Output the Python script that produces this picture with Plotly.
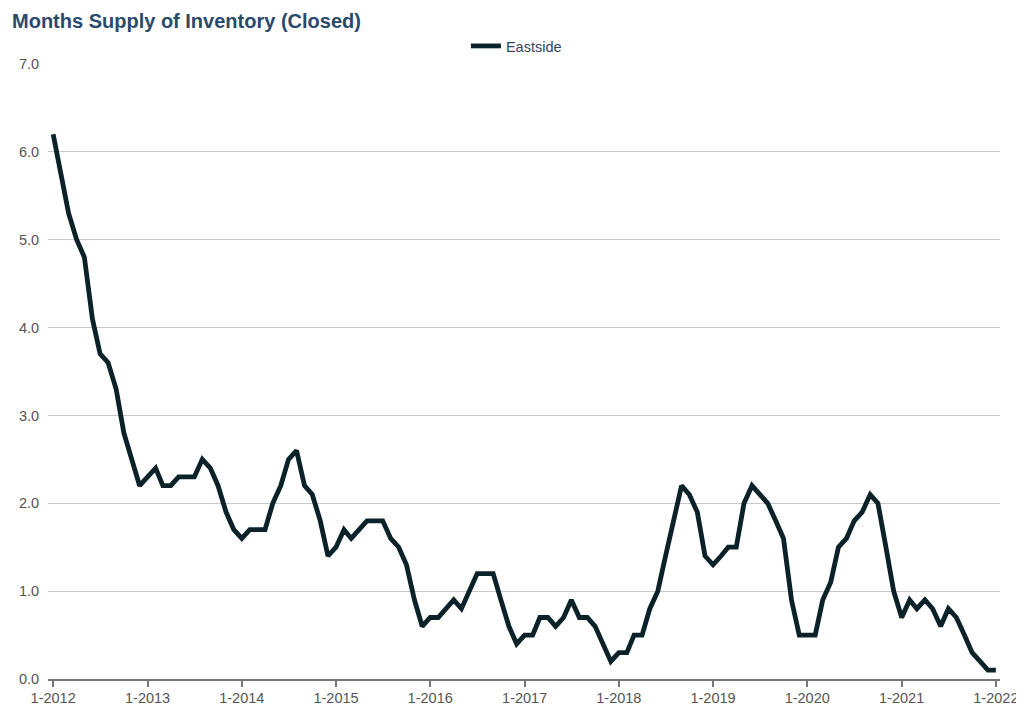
import plotly.graph_objects as go
import pandas as pd

# Monthly values, Jan 2012 .. Jan 2022
months = pd.date_range("2012-01-01", "2022-01-01", freq="MS")
eastside = [
    # 2012
    6.2, 5.7, 5.3, 5.0, 4.8, 4.1, 3.7, 3.6, 3.3, 2.8, 2.5, 2.2,
    # 2013
    2.3, 2.4, 2.2, 2.2, 2.3, 2.3, 2.3, 2.5, 2.4, 2.2, 1.9, 1.7,
    # 2014
    1.6, 1.7, 1.7, 1.7, 2.0, 2.2, 2.5, 2.6, 2.2, 2.1, 1.8, 1.4,
    # 2015
    1.5, 1.7, 1.6, 1.7, 1.8, 1.8, 1.8, 1.6, 1.5, 1.3, 0.9, 0.6,
    # 2016
    0.7, 0.7, 0.8, 0.9, 0.8, 1.0, 1.2, 1.2, 1.2, 0.9, 0.6, 0.4,
    # 2017
    0.5, 0.5, 0.7, 0.7, 0.6, 0.7, 0.9, 0.7, 0.7, 0.6, 0.4, 0.2,
    # 2018
    0.3, 0.3, 0.5, 0.5, 0.8, 1.0, 1.4, 1.8, 2.2, 2.1, 1.9, 1.4,
    # 2019
    1.3, 1.4, 1.5, 1.5, 2.0, 2.2, 2.1, 2.0, 1.8, 1.6, 0.9, 0.5,
    # 2020
    0.5, 0.5, 0.9, 1.1, 1.5, 1.6, 1.8, 1.9, 2.1, 2.0, 1.5, 1.0,
    # 2021
    0.7, 0.9, 0.8, 0.9, 0.8, 0.6, 0.8, 0.7, 0.5, 0.3, 0.2, 0.1,
    # 2022
    0.1,
]

tick_dates = pd.date_range("2012-01-01", "2022-01-01", freq="YS")
tick_labels = ["1-2012", "1-2013", "1-2014", "1-2015", "1-2016", "1-2017",
               "1-2018", "1-2019", "1-2020", "1-2021", "1-2022"]
y_ticks = [0, 1, 2, 3, 4, 5, 6, 7]

FONT = "Liberation Sans, Arial, Helvetica, sans-serif"
W, H = 1016, 701  # page has an 8px body margin; figure runs to the window edges

fig = go.Figure()
fig.add_trace(go.Scatter(
    x=months, y=eastside, mode="lines", name="Eastside",
    line=dict(color="#0c2229", width=4.8),
))

fig.update_layout(
    width=W, height=H,
    paper_bgcolor="white", plot_bgcolor="white",
    margin=dict(l=40, r=24, t=56, b=30, autoexpand=False),
    font=dict(family=FONT, color="#555555", size=14.5),
    title=dict(
        text="<b>Months Supply of Inventory (Closed)</b>",
        x=4 / W, xanchor="left", xref="container",
        y=1 - 13 / H, yanchor="middle", yref="container",
        font=dict(family=FONT, size=20, color="#2a4a6c"),
    ),
    showlegend=True,
    legend=dict(
        orientation="h", x=0.439, xanchor="left", y=1 + 18 / 615, yanchor="middle",
        font=dict(family=FONT, size=14.5, color="#34465c"),
        bgcolor="rgba(0,0,0,0)",
    ),
    xaxis=dict(
        range=["2011-12-12", "2022-01-17"],
        tickvals=tick_dates, ticktext=tick_labels,
        showgrid=False, zeroline=False, automargin=False,
        ticklabeloverflow="allow", ticklabelstandoff=-1,
        showline=True, linecolor="#777777", linewidth=2,
        ticks="outside", ticklen=6, tickwidth=2, tickcolor="#777777",
        tickfont=dict(size=14.5, color="#555555"),
    ),
    yaxis=dict(
        range=[0, 7], tickvals=y_ticks, tickformat=".1f",
        showgrid=True, gridcolor="#c8c8c8", gridwidth=1.3,
        zeroline=False, showline=False, automargin=False,
        ticks="outside", ticklen=1, tickcolor="rgba(0,0,0,0)",
        ticklabelstandoff=4,
        tickfont=dict(size=14.5, color="#555555"),
    ),
)

fig.write_html("out.html")
